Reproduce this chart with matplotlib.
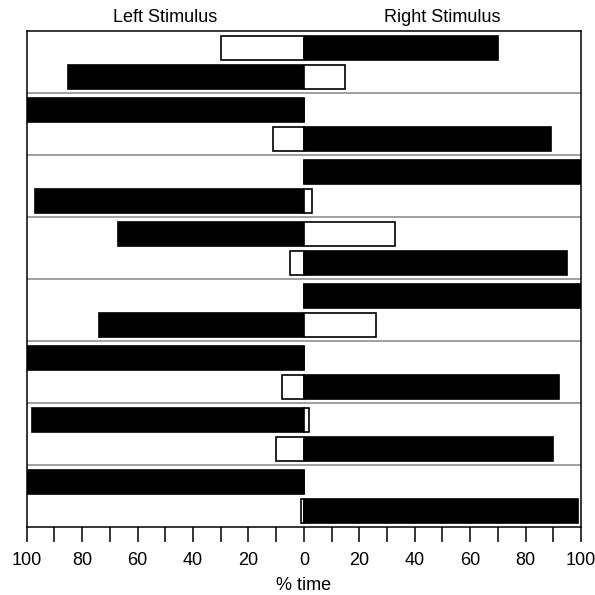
import numpy as np
import matplotlib
matplotlib.use("Agg")
import matplotlib.pyplot as plt

plt.rcParams['font.family'] = ['Liberation Sans', 'DejaVu Sans']

# % time looking at left / right stimulus, two rows per pair (top, bottom)
left_pct = [30, 85, 100, 11, 0, 97, 67, 5, 0, 74, 100, 8, 98, 10, 100, 1]
right_pct = [70, 15, 0, 89, 100, 3, 33, 95, 100, 26, 0, 92, 2, 90, 0, 99]
# which side is the filled (black) bar
black_side = ['R', 'L', 'L', 'R', 'R', 'L', 'L', 'R',
              'R', 'L', 'L', 'R', 'L', 'R', 'L', 'R']
n_groups = 8

fig = plt.figure(figsize=(5.95, 5.95), dpi=100)
ax = fig.add_axes([0.0449, 0.1143, 0.9316, 0.8336])

for i in range(len(left_pct)):
    g = i // 2
    y = g + (0.27 if i % 2 == 0 else 0.74)
    lc = 'black' if black_side[i] == 'L' else 'white'
    rc = 'black' if black_side[i] == 'R' else 'white'
    ax.barh(y, -left_pct[i], height=0.39, color=lc, edgecolor='black',
            linewidth=1.2, zorder=3)
    ax.barh(y, right_pct[i], height=0.39, color=rc, edgecolor='black',
            linewidth=1.2, zorder=3)

for g in range(1, n_groups):
    ax.axhline(g, color='0.6', linewidth=1.3, zorder=1)

ax.set_xlim(-100, 100)
ax.set_ylim(n_groups, 0)
ax.set_yticks([])
ax.set_xticks(np.arange(-100, 101, 20))
ax.set_xticklabels([str(abs(v)) for v in range(-100, 101, 20)])
ax.set_xticks(np.arange(-90, 100, 20), minor=True)
ax.tick_params(axis='x', which='both', direction='out', length=11, width=1.1,
               labelsize=13, pad=7)
for s in ax.spines.values():
    s.set_linewidth(1.1)

ax.set_xlabel('% time', fontsize=13, labelpad=6)
ax.text(-50, 1.027, 'Left Stimulus', transform=ax.get_xaxis_transform(),
        ha='center', va='center', fontsize=13)
ax.text(50, 1.027, 'Right Stimulus', transform=ax.get_xaxis_transform(),
        ha='center', va='center', fontsize=13)

fig.savefig('out.png', dpi=100)
